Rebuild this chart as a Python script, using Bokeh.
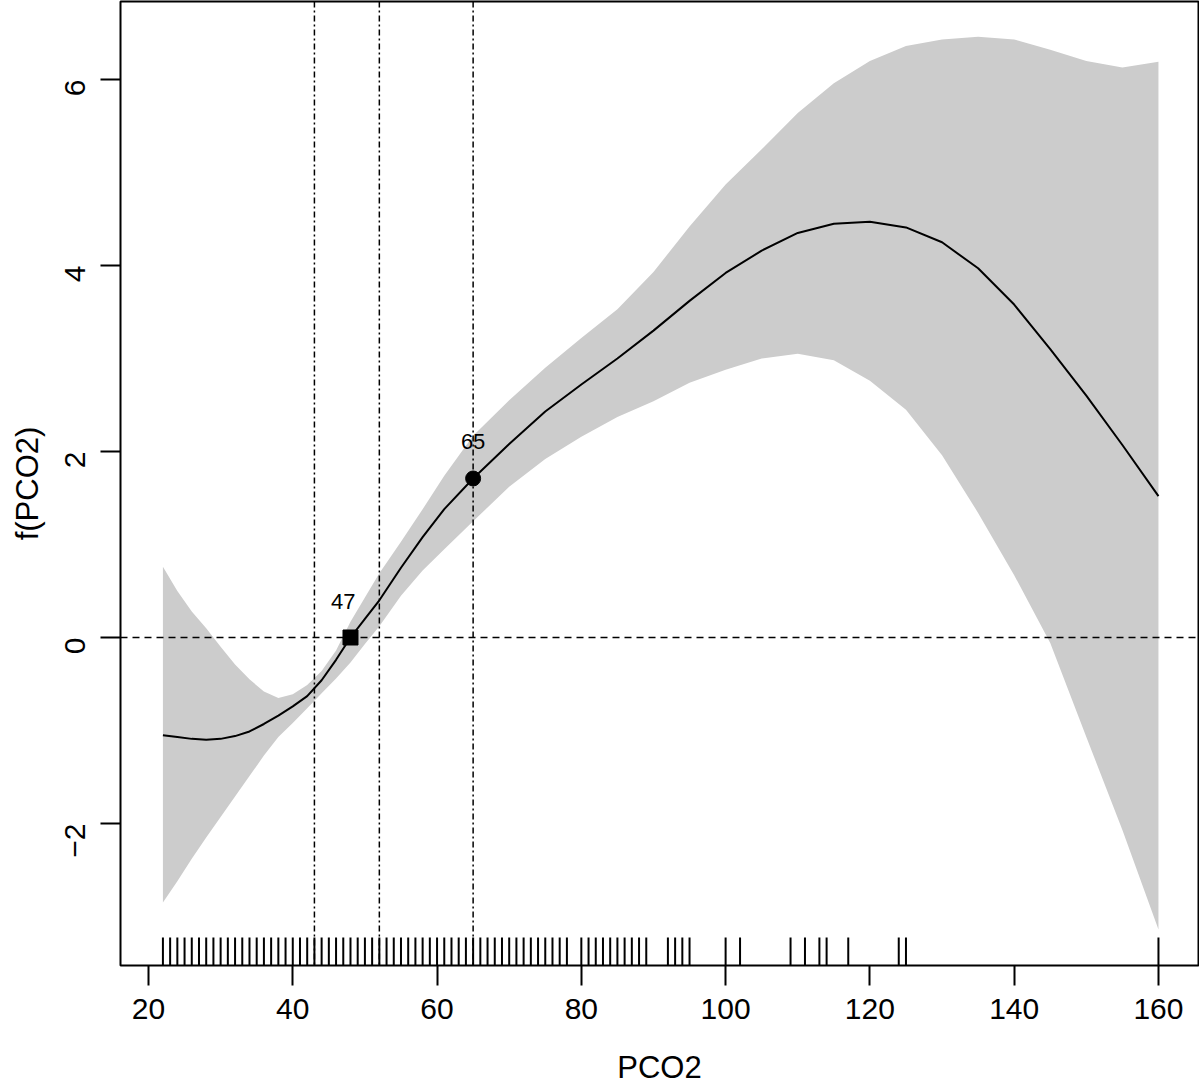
from bokeh.plotting import figure
from bokeh.models import Span, FixedTicker, Range1d, ColumnDataSource
from bokeh.embed import file_html
from bokeh.resources import INLINE
from bokeh.core.properties import value
import math

# ---- data ----
pco2 = [22, 24, 26, 28, 30, 32, 34, 36, 38, 40, 42, 44, 46, 48, 50, 52, 55, 58, 61, 65,
        70, 75, 80, 85, 90, 95, 100, 105, 110, 115, 120, 125, 130, 135, 140, 145, 150, 155, 160]
fit = [-1.05, -1.07, -1.09, -1.10, -1.09, -1.06, -1.01, -0.93, -0.84, -0.74, -0.63, -0.46, -0.24, 0.00,
       0.20, 0.40, 0.75, 1.08, 1.38, 1.71, 2.08, 2.43, 2.72, 3.00, 3.30, 3.62, 3.92, 4.16, 4.35,
       4.45, 4.47, 4.41, 4.25, 3.97, 3.58, 3.10, 2.60, 2.07, 1.52]
upper = [0.76, 0.50, 0.28, 0.10, -0.10, -0.29, -0.45, -0.58, -0.65, -0.61, -0.51, -0.36, -0.14, 0.17,
         0.43, 0.69, 1.03, 1.38, 1.74, 2.17, 2.55, 2.90, 3.22, 3.53, 3.93, 4.42, 4.87, 5.25, 5.64,
         5.96, 6.20, 6.36, 6.43, 6.46, 6.43, 6.32, 6.20, 6.13, 6.19]
lower = [-2.85, -2.62, -2.38, -2.15, -1.93, -1.71, -1.49, -1.27, -1.07, -0.92, -0.76, -0.60, -0.44, -0.27,
         -0.07, 0.12, 0.45, 0.72, 0.95, 1.25, 1.62, 1.92, 2.16, 2.37, 2.54, 2.74, 2.88, 3.00, 3.05,
         2.98, 2.76, 2.45, 1.96, 1.34, 0.67, -0.06, -1.07, -2.07, -3.14]

rug = list(range(22, 79)) + [80, 81, 82, 83, 84, 85, 86, 87, 88, 89, 92, 93, 94, 95,
                             100, 102, 109, 111, 113, 114, 117, 124, 125, 160]

vlines = [43, 52, 65]
hline = 0

square_pt = {"x": [48], "y": [0.0]}
circle_pt = {"x": [65], "y": [1.71]}
labels = {"x": [47, 65], "y": [0.39, 2.11], "text": ["47", "65"]}

xticks = [20, 40, 60, 80, 100, 120, 140, 160]
yticks = [-2, 0, 2, 4, 6]

FONT = "Liberation Sans"

p = figure(width=1199, height=1087, output_backend="svg", toolbar_location=None,
           x_range=Range1d(16.12, 165.55), y_range=Range1d(-3.527, 6.839),
           min_border_left=120, min_border_right=1, min_border_top=1, min_border_bottom=122)
p.background_fill_color = "white"
p.border_fill_color = "white"
p.outline_line_color = "black"
p.outline_line_width = 2
p.xgrid.visible = False
p.ygrid.visible = False

# confidence band
p.varea(x=pco2, y1=lower, y2=upper, fill_color="#CCCCCC")

# reference lines
p.add_layout(Span(location=hline, dimension="width", line_color="black",
                  line_width=1.5, line_dash="7 5"))
for v in vlines:
    p.add_layout(Span(location=v, dimension="height", line_color="black",
                      line_width=1.5, line_dash="6 3 2 3"))

# fitted curve
p.line(pco2, fit, line_color="black", line_width=2)

# rug
y0 = p.y_range.start
p.segment(x0=rug, x1=rug, y0=[y0] * len(rug), y1=[y0 + 0.30] * len(rug),
          line_color="black", line_width=2)

# points
p.scatter(x="x", y="y", source=ColumnDataSource(square_pt), marker="square",
          size=15, fill_color="black", line_color="black")
p.scatter(x="x", y="y", source=ColumnDataSource(circle_pt), marker="circle",
          size=15, fill_color="black", line_color="black")
p.text(x="x", y="y", text="text", source=ColumnDataSource(labels),
       text_align="center", text_baseline="middle", text_font=value(FONT),
       text_font_size="22px", text_color="black")

# axes
p.xaxis.ticker = FixedTicker(ticks=xticks)
p.yaxis.ticker = FixedTicker(ticks=yticks)
for ax in (p.xaxis[0], p.yaxis[0]):
    ax.axis_line_color = None
    ax.major_tick_line_color = "black"
    ax.major_tick_line_width = 2
    ax.major_tick_out = 20
    ax.major_tick_in = 0
    ax.minor_tick_line_color = None
    ax.major_label_text_font = FONT
    ax.major_label_text_font_size = "30px"
    ax.major_label_text_color = "black"
    ax.axis_label_text_font = FONT
    ax.axis_label_text_font_size = "31px"
    ax.axis_label_text_font_style = "normal"
    ax.axis_label_text_color = "black"

p.xaxis.axis_label = "PCO2"
p.yaxis.axis_label = "f(PCO2)"
p.xaxis.major_label_standoff = 13
p.yaxis.major_label_standoff = 25
p.yaxis.major_label_orientation = math.pi / 2
p.xaxis.axis_label_standoff = 28
p.yaxis.axis_label_standoff = 8

open("out.html", "w").write(file_html(p, INLINE))
